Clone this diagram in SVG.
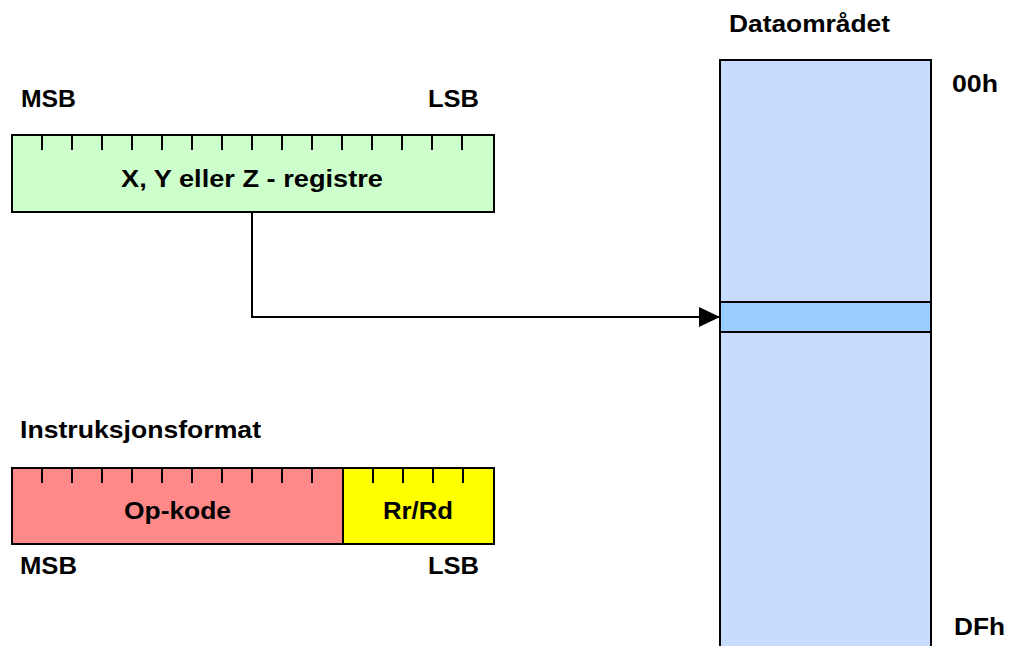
<svg xmlns="http://www.w3.org/2000/svg" width="1010" height="646" viewBox="0 0 1010 646">
<style>
text{font-family:"Liberation Sans",Arial,sans-serif;font-weight:bold;font-size:24px;fill:#000}
.box{stroke:#000;stroke-width:2}
.tick{stroke:#000;stroke-width:2}
</style>
<defs>
<marker id="arr" markerWidth="21" markerHeight="20" refX="21" refY="10" orient="auto" markerUnits="userSpaceOnUse">
<path d="M0,0 L21,10 L0,20 Z" fill="#000"/>
</marker>
</defs>
<rect width="1010" height="646" fill="#fff"/>
<g id="register">
<rect class="box" x="12" y="135" width="482" height="77" fill="#ccffcc"/>
<path class="tick" d="M42,135v15M72,135v15M102,135v15M132,135v15M162,135v15M192,135v15M222,135v15M252,135v15M282,135v15M312,135v15M342,135v15M372,135v15M402,135v15M432,135v15M462,135v15"/>
<text x="121" y="187" textLength="262" lengthAdjust="spacingAndGlyphs">X, Y eller Z - registre</text>
</g>
<g id="labels-top">
<text x="21" y="107" textLength="55" lengthAdjust="spacingAndGlyphs">MSB</text>
<text x="428" y="107" textLength="51" lengthAdjust="spacingAndGlyphs">LSB</text>
</g>
<g id="instr-title">
<text x="20" y="438" textLength="241" lengthAdjust="spacingAndGlyphs">Instruksjonsformat</text>
</g>
<g id="opcode">
<rect class="box" x="12" y="468" width="331" height="76" fill="#ff8888"/>
<path class="tick" d="M42,468v15M72,468v15M102,468v15M132,468v15M162,468v15M192,468v15M222,468v15M252,468v15M282,468v15M312,468v15"/>
<text x="124" y="519" textLength="107" lengthAdjust="spacingAndGlyphs">Op-kode</text>
</g>
<g id="rrrd">
<rect class="box" x="343" y="468" width="151" height="76" fill="#ffff00"/>
<path class="tick" d="M373,468v15M403,468v15M433,468v15M463,468v15"/>
<text x="383" y="519" textLength="70" lengthAdjust="spacingAndGlyphs">Rr/Rd</text>
</g>
<g id="labels-bottom">
<text x="20" y="574" textLength="57" lengthAdjust="spacingAndGlyphs">MSB</text>
<text x="428" y="574" textLength="51" lengthAdjust="spacingAndGlyphs">LSB</text>
</g>
<g id="dataomradet">
<text x="729" y="32" textLength="161" lengthAdjust="spacingAndGlyphs">Dataområdet</text>
<rect class="box" x="720" y="60" width="211" height="600" fill="#c8dcff"/>
<rect class="box" x="720" y="302" width="211" height="30" fill="#99ccff"/>
<text x="952" y="92" textLength="46" lengthAdjust="spacingAndGlyphs">00h</text>
<text x="954" y="635" textLength="51" lengthAdjust="spacingAndGlyphs">DFh</text>
</g>
<g id="connectors">
<path d="M252,212 V317 H720" fill="none" stroke="#000" stroke-width="2" marker-end="url(#arr)"/>
</g>
</svg>
